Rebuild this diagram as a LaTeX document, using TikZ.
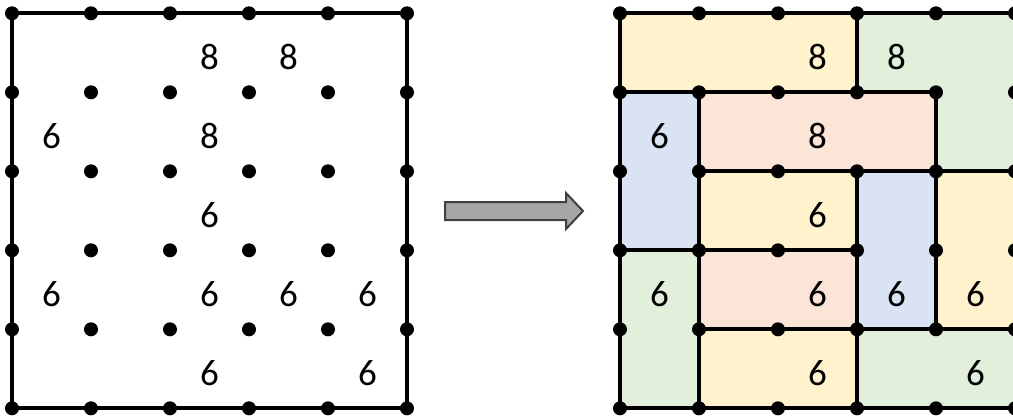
\documentclass[tikz,border=0pt]{standalone}
\usepackage{fontspec}
\setmainfont{Carlito}
\definecolor{pyellow}{HTML}{FFF2CC}
\definecolor{pgreen}{HTML}{E2EFDA}
\definecolor{pblue}{HTML}{DAE3F3}
\definecolor{ppink}{HTML}{FBE5D6}
\definecolor{arrowfill}{HTML}{A6A6A6}
\definecolor{arrowdraw}{HTML}{404040}
\begin{document}
\begin{tikzpicture}[x=1pt,y=-1pt,
  edge/.style={line width=4.3pt, draw=black, line join=miter},
  piece/.style={edge},
  dotmark/.style={fill=black},
  lab/.style={font=\fontsize{37}{44}\selectfont, text=black, inner sep=0pt, anchor=center},
  bigarrow/.style={line width=2pt, draw=arrowdraw, fill=arrowfill, line join=miter}]
\useasboundingbox (0,0) rectangle (1013,416);
\clip (0,0) rectangle (1013,416);
\foreach \i in {0,...,5}{
  \foreach \j in {0,...,5}{
    \coordinate (L\i\j) at ({12+79*\i},{13.3+79*\j});
    \coordinate (R\i\j) at ({620+79*\i},{13.3+79*\j});
  }
}
% left board
\draw[edge] (L00) rectangle (L55);
% right board pieces
\filldraw[piece, fill=pyellow] (R00) rectangle (R31);
\filldraw[piece, fill=pgreen] (R30) -- (R50) -- (R52) -- (R42) -- (R41) -- (R31) -- cycle;
\filldraw[piece, fill=pblue] (R01) rectangle (R13);
\filldraw[piece, fill=ppink] (R11) rectangle (R42);
\filldraw[piece, fill=pyellow] (R12) rectangle (R33);
\filldraw[piece, fill=pblue] (R32) rectangle (R44);
\filldraw[piece, fill=pyellow] (R42) rectangle (R54);
\filldraw[piece, fill=pgreen] (R03) rectangle (R15);
\filldraw[piece, fill=ppink] (R13) rectangle (R34);
\filldraw[piece, fill=pyellow] (R14) rectangle (R35);
\filldraw[piece, fill=pgreen] (R34) rectangle (R55);
% dots
\foreach \i in {0,...,5}{
  \foreach \j in {0,...,5}{
    \fill[dotmark] (L\i\j) circle (7);
    \fill[dotmark] (R\i\j) circle (7);
  }
}
% labels left
\node[lab] (la1) at ([shift={(39.5,44)}]L20) {8};
\node[lab] (la2) at ([shift={(39.5,44)}]L30) {8};
\node[lab] (la3) at ([shift={(39.5,44)}]L01) {6};
\node[lab] (la4) at ([shift={(39.5,44)}]L21) {8};
\node[lab] (la5) at ([shift={(39.5,44)}]L22) {6};
\node[lab] (la6) at ([shift={(39.5,44)}]L03) {6};
\node[lab] (la7) at ([shift={(39.5,44)}]L23) {6};
\node[lab] (la8) at ([shift={(39.5,44)}]L33) {6};
\node[lab] (la9) at ([shift={(39.5,44)}]L43) {6};
\node[lab] (la10) at ([shift={(39.5,44)}]L24) {6};
\node[lab] (la11) at ([shift={(39.5,44)}]L44) {6};
% labels right
\node[lab] (ra1) at ([shift={(39.5,44)}]R20) {8};
\node[lab] (ra2) at ([shift={(39.5,44)}]R30) {8};
\node[lab] (ra3) at ([shift={(39.5,44)}]R01) {6};
\node[lab] (ra4) at ([shift={(39.5,44)}]R21) {8};
\node[lab] (ra5) at ([shift={(39.5,44)}]R22) {6};
\node[lab] (ra6) at ([shift={(39.5,44)}]R03) {6};
\node[lab] (ra7) at ([shift={(39.5,44)}]R23) {6};
\node[lab] (ra8) at ([shift={(39.5,44)}]R33) {6};
\node[lab] (ra9) at ([shift={(39.5,44)}]R43) {6};
\node[lab] (ra10) at ([shift={(39.5,44)}]R24) {6};
\node[lab] (ra11) at ([shift={(39.5,44)}]R44) {6};
% arrow
\filldraw[bigarrow] (445,202) -- (566,202) -- (566,193) -- (583,211) -- (566,229) -- (566,220) -- (445,220) -- cycle;
\end{tikzpicture}
\end{document}
